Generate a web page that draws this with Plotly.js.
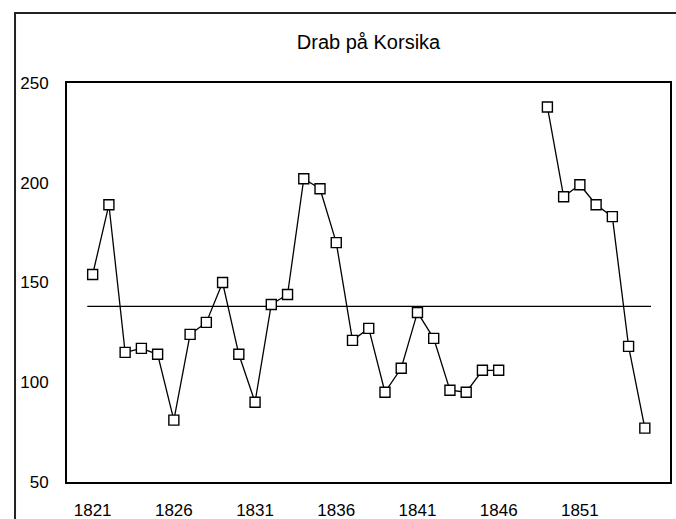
<!DOCTYPE html>
<html>
<head>
<meta charset="utf-8">
<script src="https://cdn.plot.ly/plotly-3.0.1.min.js"></script>
<style>
html,body{margin:0;padding:0;background:#fff;}
#chart{width:676px;height:519px;}
</style>
</head>
<body>
<div id="chart"></div>
<script>
const years = [1821,1822,1823,1824,1825,1826,1827,1828,1829,1830,
               1831,1832,1833,1834,1835,1836,1837,1838,1839,1840,
               1841,1842,1843,1844,1845,1846,1847,1848,1849,1850,
               1851,1852,1853,1854,1855];
const murders = [154,189,115,117,114,81,124,130,150,114,
                 90,139,144,202,197,170,121,127,95,107,
                 135,122,96,95,106,106,null,null,238,193,
                 199,189,183,118,77];
const meanYears = [1820.67, 1855.38];
const meanValues = [138, 138];
const xTickVals = [1821,1826,1831,1836,1841,1846,1851];
const xTickText = ["1821","1826","1831","1836","1841","1846","1851"];
const yTickVals = [50,100,150,200,250];
const chartTitle = "Drab på Korsika";

const font = "Liberation Sans, Arial, sans-serif";

const traces = [
  {
    x: meanYears, y: meanValues, type: "scatter", mode: "lines",
    line: {color: "#000", width: 1.3}, hoverinfo: "skip"
  },
  {
    x: years, y: murders, type: "scatter", mode: "lines+markers",
    connectgaps: false,
    line: {color: "#000", width: 1.3},
    marker: {symbol: "square", size: 10, color: "#fff", line: {color: "#000", width: 1.4}}
  }
];

const layout = {
  width: 676, height: 519,
  margin: {l: 67, r: 6, t: 83, b: 37},
  paper_bgcolor: "#fff", plot_bgcolor: "#fff",
  showlegend: false,
  font: {family: font, size: 17, color: "#000"},
  title: {text: chartTitle, x: 0.5, xref: "paper", y: 41, yref: "container", yanchor: "middle",
          font: {family: font, size: 20, color: "#000"}},
  xaxis: {
    range: [1819.42, 1856.55], showgrid: false, zeroline: false,
    tickmode: "array", tickvals: xTickVals, ticktext: xTickText,
    ticks: "outside", ticklen: 12, tickcolor: "rgba(0,0,0,0)",
    showline: true, mirror: true, linecolor: "#000", linewidth: 2,
    tickfont: {family: font, size: 17, color: "#000"}
  },
  yaxis: {
    range: [50, 250], showgrid: false, zeroline: false,
    tickmode: "array", tickvals: yTickVals,
    ticks: "outside", ticklen: 13, tickcolor: "rgba(0,0,0,0)",
    showline: true, mirror: true, linecolor: "#000", linewidth: 2,
    tickfont: {family: font, size: 17, color: "#000"}
  },
  shapes: [
    {type: "rect", xref: "paper", yref: "paper",
     x0: -0.0862, x1: 1.2, y0: -0.5, y1: 1.1754,
     line: {color: "#222", width: 2}, fillcolor: "rgba(0,0,0,0)", layer: "above"}
  ]
};

Plotly.newPlot("chart", traces, layout, {displayModeBar: false, staticPlot: true});
</script>
</body>
</html>
